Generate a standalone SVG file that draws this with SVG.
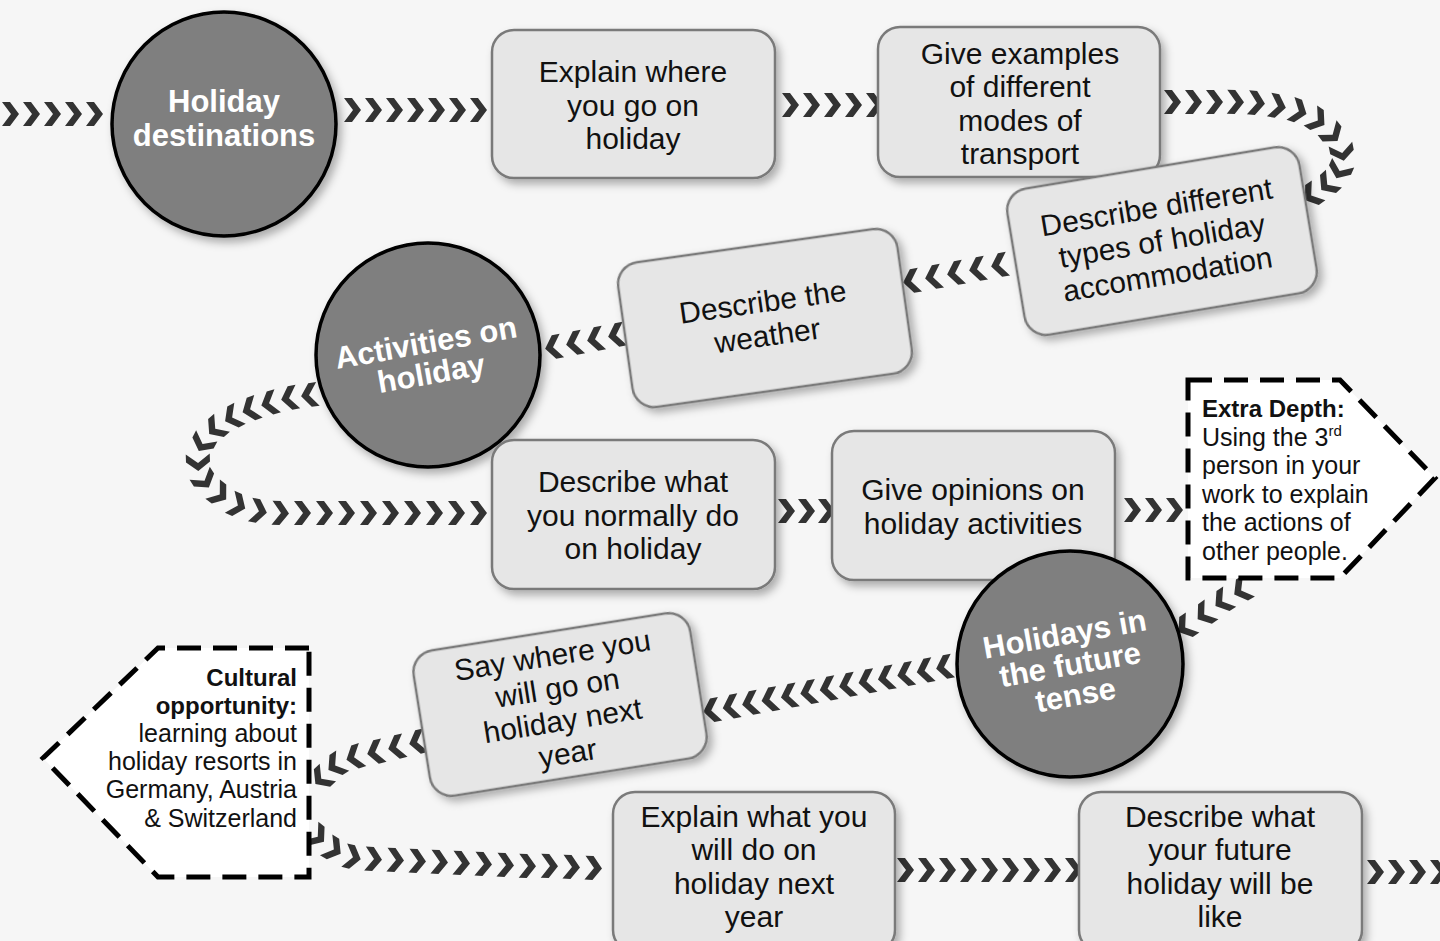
<svg xmlns="http://www.w3.org/2000/svg" width="1440" height="941" viewBox="0 0 1440 941">
<defs>
<style>
.bg{fill:#f6f6f6}
.chain{fill:none;stroke:none;marker-start:url(#chev);marker-mid:url(#chev);marker-end:url(#chev)}
.box{fill:#e6e6e6;stroke:#7a7a7a;stroke-width:2.5;filter:url(#sh)}
.circ{fill:#7f7f7f;stroke:#000;stroke-width:3.5;filter:url(#sh)}
.bt{font-family:"Liberation Sans",Arial,sans-serif;font-size:30px;fill:#111;text-anchor:middle}
.ct{font-family:"Liberation Sans",Arial,sans-serif;font-size:31px;font-weight:bold;fill:#fff;text-anchor:middle}
.hex{fill:#fff;stroke:#000;stroke-width:5;stroke-dasharray:24 12}
.ht{font-family:"Liberation Sans",Arial,sans-serif;font-size:25px;fill:#111}
.hb{font-weight:bold;font-size:24px}
</style>
<filter id="sh" x="-20%" y="-20%" width="140%" height="140%">
<feDropShadow dx="4" dy="5" stdDeviation="4" flood-color="#000" flood-opacity="0.3"/>
</filter>
<marker id="chev" markerUnits="userSpaceOnUse" markerWidth="20" markerHeight="26" viewBox="-10 -13 20 26" refX="0" refY="0" orient="auto" overflow="visible">
<path d="M -8 -12 L 0 -12 L 9 0 L 0 12 L -8 12 L 1 0 Z" fill="#333"/>
</marker>
</defs>
<rect class="bg" x="0" y="0" width="1440" height="941"/>

<g id="connectors">
<polyline class="chain" points="10,114 31,114 52,114 73,114 94,114"/>
<polyline class="chain" points="352,110 373,110 394,110 415,110 436,110 457,110 478,110"/>
<polyline class="chain" points="790,105 811,105 832,105 853,105 874,105"/>
<polyline class="chain" points="1172,102 1193,102 1214,102 1235,102 1256,103 1277,106 1298,111 1317,120 1332,134 1342,152 1340,170 1328,184 1312,195"/>
<polyline class="chain" points="1000,265 978,269 956,273 934,277 912,281"/>
<polyline class="chain" points="617,335 596,339 575,343 554,347"/>
<polyline class="chain" points="310,395 290,398 270,403 251,409 233,417 216,428 203,443 198,462 204,480 219,494 237,505 258,511 280,513 302,513 324,513 346,513 368,513 390,513 412,513 434,513 456,513 478,513"/>
<polyline class="chain" points="786,511 806,511 826,511"/>
<polyline class="chain" points="1132,510 1153,510 1174,510"/>
<polyline class="chain" points="1242,590 1223,601 1205,614 1186,627"/>
<polyline class="chain" points="945,667 925.6,670.6 906.2,674.2 886.8,677.8 867.4,681.4 848,685 828.6,688.6 809.2,692.2 789.8,695.8 770.4,699.4 751,703 731.6,706.6 712.2,710.2"/>
<polyline class="chain" points="418,742 397,747 376,752 355,757 336,765 322,778"/>
<polyline class="chain" points="317,836 333,849 352,857 373,859 395,860 417,861 439,862 461,863 483,864 505,865 527,866 549,866 571,867 593,868"/>
<polyline class="chain" points="905,870 926,870 947,870 968,870 989,870 1010,870 1031,870 1052,870 1073,870"/>
<polyline class="chain" points="1375,872 1396,872 1417,872 1438,872"/>
</g>

<g id="n1">
<circle class="circ" cx="224" cy="124" r="112"/>
<text class="ct" x="224" y="112">Holiday</text>
<text class="ct" x="224" y="146">destinations</text>
</g>

<g id="n2">
<rect class="box" x="492" y="30" width="283" height="148" rx="22"/>
<text class="bt" x="633" y="82">Explain where</text>
<text class="bt" x="633" y="116">you go on</text>
<text class="bt" x="633" y="149">holiday</text>
</g>

<g id="n3">
<rect class="box" x="878" y="27" width="282" height="150" rx="22"/>
<text class="bt" x="1020" y="64">Give examples</text>
<text class="bt" x="1020" y="97">of different</text>
<text class="bt" x="1020" y="131">modes of</text>
<text class="bt" x="1020" y="164">transport</text>
</g>

<g id="n4" transform="translate(1162,241) rotate(-9.4)">
<rect class="box" x="-148" y="-74" width="296" height="148" rx="22"/>
<text class="bt" x="0" y="-24">Describe different</text>
<text class="bt" x="0" y="10">types of holiday</text>
<text class="bt" x="0" y="44">accommodation</text>
</g>

<g id="n5" transform="translate(765,318) rotate(-8)">
<rect class="box" x="-141" y="-73" width="282" height="146" rx="22"/>
<text class="bt" x="0" y="-6">Describe the</text>
<text class="bt" x="0" y="28">weather</text>
</g>

<g id="n6" transform="translate(428,355)">
<circle class="circ" cx="0" cy="0" r="112"/>
<g transform="rotate(-10)">
<text class="ct" x="0" y="-2">Activities on</text>
<text class="ct" x="0" y="29">holiday</text>
</g>
</g>

<g id="n7">
<rect class="box" x="492" y="440" width="283" height="149" rx="22"/>
<text class="bt" x="633" y="492">Describe what</text>
<text class="bt" x="633" y="526">you normally do</text>
<text class="bt" x="633" y="559">on holiday</text>
</g>

<g id="n8">
<rect class="box" x="832" y="431" width="283" height="149" rx="22"/>
<text class="bt" x="973" y="500">Give opinions on</text>
<text class="bt" x="973" y="534">holiday activities</text>
</g>

<g id="n9">
<polygon class="hex" points="1188,380 1340,380 1435,478 1340,578 1188,578"/>
<text class="ht" x="1202" y="417"><tspan class="hb">Extra Depth:</tspan></text>
<text class="ht" x="1202" y="445.5">Using the 3<tspan font-size="15" dy="-10">rd</tspan></text>
<text class="ht" x="1202" y="474">person in your</text>
<text class="ht" x="1202" y="502.5">work to explain</text>
<text class="ht" x="1202" y="531">the actions of</text>
<text class="ht" x="1202" y="559.5">other people.</text>
</g>

<g id="n10" transform="translate(1070,664)">
<circle class="circ" cx="0" cy="0" r="113"/>
<g transform="rotate(-10)">
<text class="ct" x="0" y="-20">Holidays in</text>
<text class="ct" x="0" y="11">the future</text>
<text class="ct" x="0" y="42">tense</text>
</g>
</g>

<g id="n11" transform="translate(560,704) rotate(-9)">
<rect class="box" x="-140" y="-73" width="280" height="147" rx="22"/>
<text class="bt" x="0" y="-39">Say where you</text>
<text class="bt" x="0" y="-6">will go on</text>
<text class="bt" x="0" y="27">holiday next</text>
<text class="bt" x="0" y="60">year</text>
</g>

<g id="n12">
<polygon class="hex" points="309,648 158,648 43,758 158,877 309,877"/>
<text class="ht" x="297" y="686" text-anchor="end"><tspan class="hb">Cultural</tspan></text>
<text class="ht" x="297" y="714" text-anchor="end"><tspan class="hb">opportunity:</tspan></text>
<text class="ht" x="297" y="742" text-anchor="end">learning about</text>
<text class="ht" x="297" y="770" text-anchor="end">holiday resorts in</text>
<text class="ht" x="297" y="798" text-anchor="end">Germany, Austria</text>
<text class="ht" x="297" y="827" text-anchor="end">&amp; Switzerland</text>
</g>

<g id="n13">
<rect class="box" x="613" y="792" width="282" height="160" rx="22"/>
<text class="bt" x="754" y="827">Explain what you</text>
<text class="bt" x="754" y="860">will do on</text>
<text class="bt" x="754" y="894">holiday next</text>
<text class="bt" x="754" y="927">year</text>
</g>

<g id="n14">
<rect class="box" x="1079" y="792" width="283" height="160" rx="22"/>
<text class="bt" x="1220" y="827">Describe what</text>
<text class="bt" x="1220" y="860">your future</text>
<text class="bt" x="1220" y="894">holiday will be</text>
<text class="bt" x="1220" y="927">like</text>
</g>
</svg>
